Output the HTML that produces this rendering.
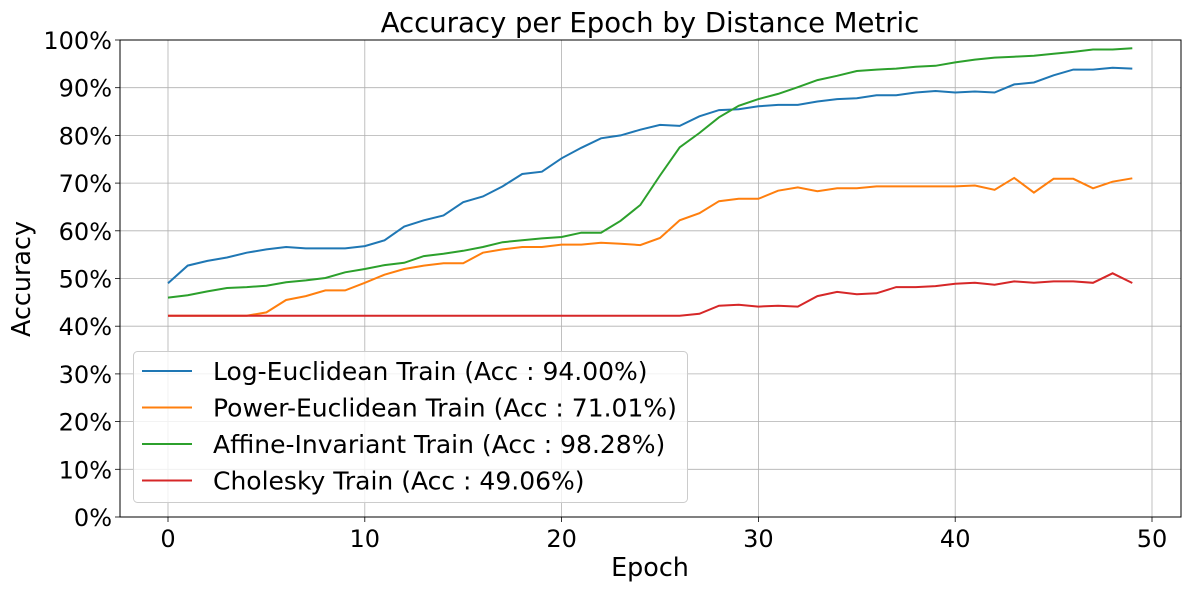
<!DOCTYPE html>
<html><head><meta charset="utf-8"><style>body{margin:0;background:#fff}svg{display:block;font-family:"DejaVu Sans","Liberation Sans",sans-serif}</style></head>
<body>
<svg id="s" width="1189" height="590" viewBox="0 0 1189 590"></svg>
<script>
const s=document.getElementById('s');
const X0=120,X1=1181,Y0=40,Y1=517;
const xp=e=>168+e*19.68, yp=v=>517-v*4.77;
let h='';
for(let e=0;e<=50;e+=10){const x=xp(e);h+=`<line x1="${x}" y1="${Y0}" x2="${x}" y2="${Y1}" stroke="#b0b0b0" stroke-width="0.8"/>`;
h+=`<line x1="${x}" y1="${Y1}" x2="${x}" y2="${Y1+5}" stroke="#000" stroke-width="0.8"/>`;
h+=`<text x="${x}" y="547" font-size="24" text-anchor="middle">${e}</text>`;}
for(let v=0;v<=100;v+=10){const y=yp(v);h+=`<line x1="${X0}" y1="${y}" x2="${X1}" y2="${y}" stroke="#b0b0b0" stroke-width="0.8"/>`;
h+=`<line x1="${X0-5}" y1="${y}" x2="${X0}" y2="${y}" stroke="#000" stroke-width="0.8"/>`;
h+=`<text x="${X0-8}" y="${y+9}" font-size="24" text-anchor="end">${v}%</text>`;}
const B=[49,52.7,53.7,54.4,55.4,56.1,56.6,56.3,56.3,56.3,56.8,58,60.9,62.2,63.2,66,67.2,69.3,71.9,72.4,75.2,77.4,79.4,80,81.2,82.2,82,84,85.3,85.5,86.1,86.4,86.4,87.1,87.6,87.8,88.4,88.4,89,89.3,89,89.2,89,90.7,91.1,92.6,93.8,93.8,94.2,94.0];
const O=[42.2,42.2,42.2,42.2,42.2,42.9,45.5,46.3,47.5,47.5,49.1,50.8,52,52.7,53.2,53.2,55.4,56.1,56.6,56.6,57.1,57.1,57.5,57.3,57,58.5,62.2,63.7,66.2,66.7,66.7,68.4,69.1,68.3,68.9,68.9,69.3,69.3,69.3,69.3,69.3,69.5,68.6,71.1,68,70.9,70.9,68.9,70.3,71.01];
const G=[46,46.5,47.3,48,48.2,48.5,49.2,49.6,50.1,51.3,52,52.8,53.3,54.7,55.2,55.8,56.6,57.6,58,58.4,58.7,59.6,59.6,62.1,65.4,71.6,77.5,80.5,83.8,86.2,87.6,88.7,90.1,91.6,92.5,93.5,93.8,94,94.4,94.6,95.3,95.9,96.3,96.5,96.7,97.1,97.5,98,98,98.28];
const R=[];for(let i=0;i<27;i++)R.push(42.2);R.push(42.6,44.3,44.5,44.1,44.3,44.1,46.3,47.2,46.7,46.9,48.2,48.2,48.4,48.9,49.1,48.7,49.4,49.1,49.4,49.4,49.1,51.1,49.06);
const ser=[[B,'#1f77b4'],[O,'#ff7f0e'],[G,'#2ca02c'],[R,'#d62728']];
for(const [d,c] of ser){h+=`<polyline fill="none" stroke="${c}" stroke-width="2" points="${d.map((v,i)=>xp(i).toFixed(1)+','+yp(v).toFixed(1)).join(' ')}"/>`;}
h+=`<rect x="${X0}" y="${Y0}" width="${X1-X0}" height="${Y1-Y0}" fill="none" stroke="#000" stroke-width="1"/>`;
h+=`<rect x="133.5" y="351.5" width="554" height="151" rx="4" fill="#fff" fill-opacity="0.8" stroke="#ccc"/>`;
const L=['Log-Euclidean Train (Acc : 94.00%)','Power-Euclidean Train (Acc : 71.01%)','Affine-Invariant Train (Acc : 98.28%)','Cholesky Train (Acc : 49.06%)'];
L.forEach((t,i)=>{const y=371+i*36.5;h+=`<line x1="142" y1="${y}" x2="192" y2="${y}" stroke="${ser[i][1]}" stroke-width="2"/>`;
h+=`<text x="213" y="${y+9}" font-size="25">${t}</text>`;});
h+=`<text x="650" y="32" font-size="27.5" text-anchor="middle">Accuracy per Epoch by Distance Metric</text>`;
h+=`<text x="650" y="576" font-size="25.4" text-anchor="middle">Epoch</text>`;
h+=`<text transform="translate(30,279) rotate(-90)" font-size="25.4" text-anchor="middle">Accuracy</text>`;
s.innerHTML=h;
</script>
</body></html>
